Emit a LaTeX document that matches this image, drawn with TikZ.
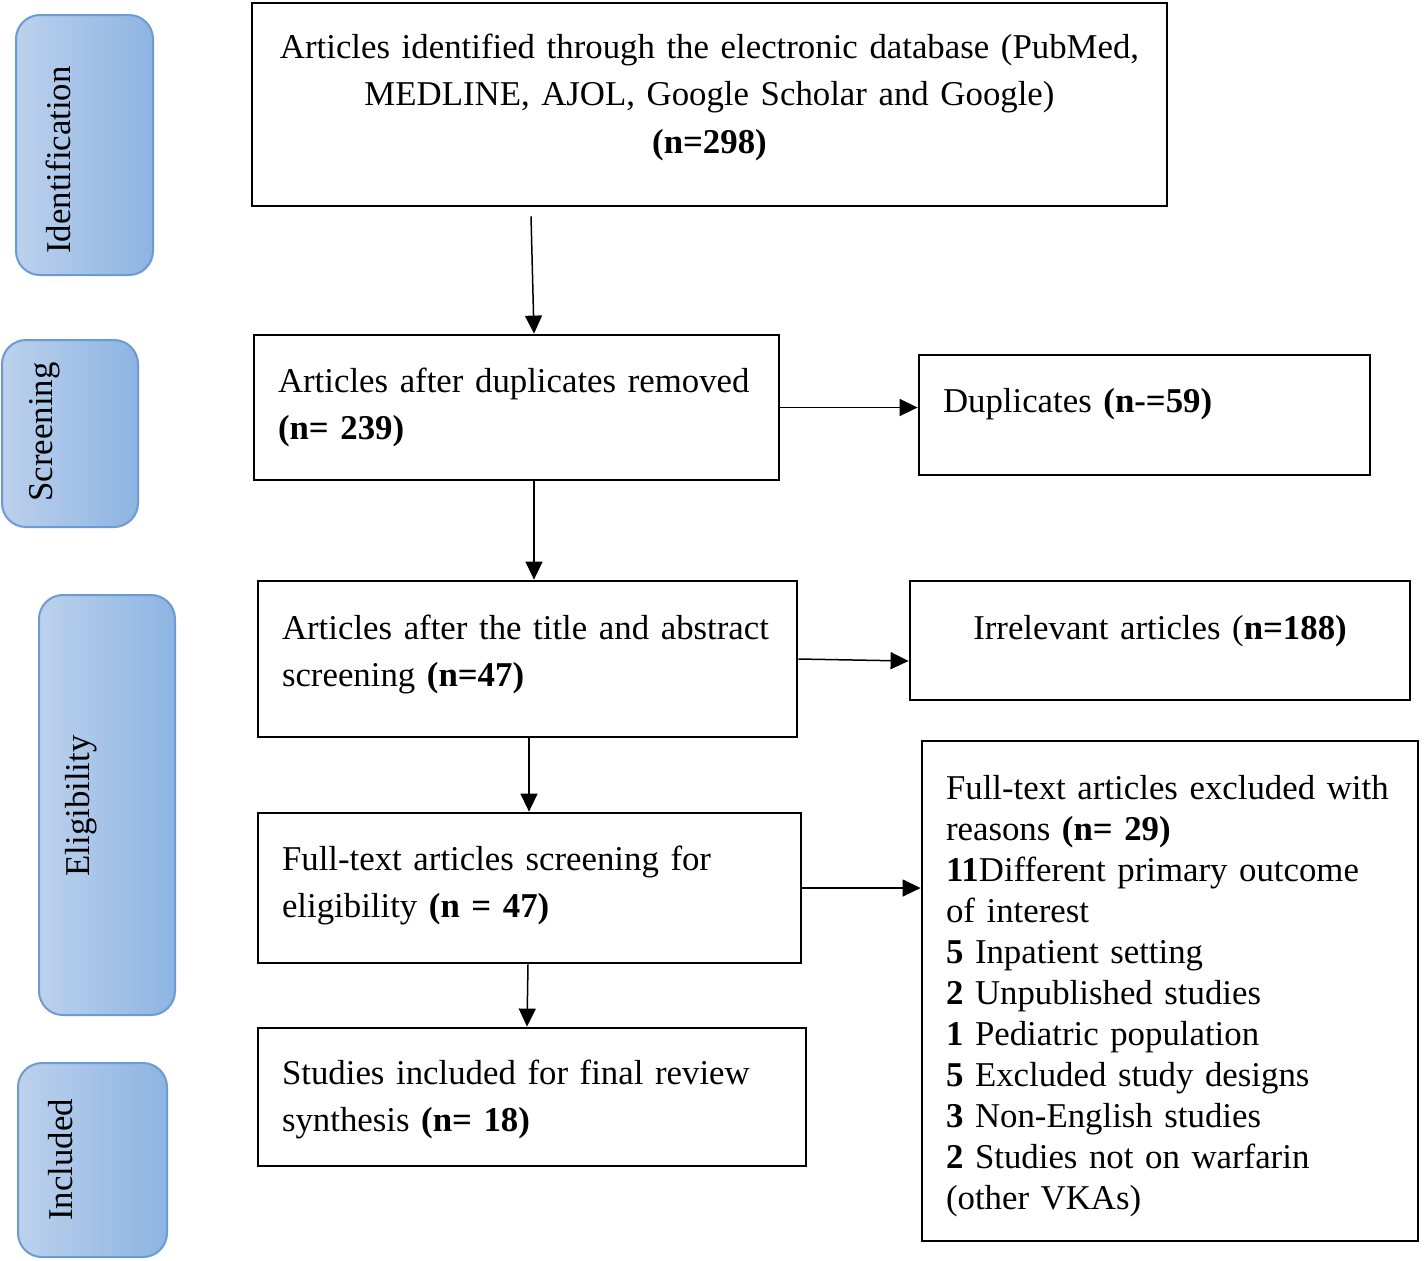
\documentclass[tikz,border=0pt]{standalone}
\usepackage{fontspec}
\setmainfont{Liberation Serif}
\usetikzlibrary{arrows.meta}

\definecolor{stageLeft}{RGB}{188,209,237}
\definecolor{stageRight}{RGB}{141,180,226}
\definecolor{stageLine}{RGB}{108,155,210}

\begin{document}
\begin{tikzpicture}[x=0.5pt, y=-0.5pt,
	every node/.style={font=\fontsize{17.4pt}{23.75pt}\selectfont},
	flowBox/.style={rectangle, draw=black, line width=1.4pt, inner ysep=0pt, inner xsep=12pt},
	stageBox/.style={rectangle, rounded corners=12pt, draw=stageLine, line width=1pt, left color=stageLeft, right color=stageRight},
	stageText/.style={rotate=90, anchor=base},
	flowArrow/.style={-{Triangle[length=9pt,width=8.5pt]}, line width=0.75pt}]
		\useasboundingbox (0,0) rectangle (1424,1260);

		% stage boxes on the left
		\node[stageBox, minimum width=68.5pt, minimum height=130pt](identBox) at (84.5,145){};
		\node[stageBox, minimum width=68pt, minimum height=93.5pt](screenBox) at (70,433.5){};
		\node[stageBox, minimum width=68pt, minimum height=210pt](eligBox) at (107,805){};
		\node[stageBox, minimum width=74.5pt, minimum height=97pt](inclBox) at (92.5,1160){};

		\node[stageText](identLabel) at (70,160){Identification};
		\node[stageText](screenLabel) at (52,432){Screening};
		\node[stageText](eligLabel) at (89,806){Eligibility};
		\node[stageText](inclLabel) at (72,1160){Included};

		% flow boxes
		\node[flowBox, inner xsep=5pt, text width=447.5pt, align=center, text height=27.5pt, text depth=74pt](artIdent) at (709.5,104.5){Articles identified through the electronic database (PubMed,\\ MEDLINE, AJOL, Google Scholar and Google)\\ \textbf{(n=298)}};
		\node[flowBox, text width=238.5pt, align=left, text height=28.5pt, text depth=44pt](artDedup) at (516.5,407.5){Articles after duplicates removed\\ \textbf{(n= 239)}};
		\node[flowBox, text width=201.5pt, align=left, text height=28.5pt, text depth=31.5pt](dupl) at (1144.5,415){Duplicates \textbf{(n-=59)}};
		\node[flowBox, text width=245.5pt, align=left, text height=29pt, text depth=49pt](artScreen) at (527.5,659){Articles after the title and abstract\\ screening \textbf{(n=47)}};
		\node[flowBox, text width=226pt, align=center, text height=29pt, text depth=30.5pt](irr) at (1160,640.5){Irrelevant articles (\textbf{n=188)}};
		\node[flowBox, text width=247.5pt, align=left, text height=28.5pt, text depth=46.5pt](fullText) at (529.5,888){Full-text articles screening for\\ eligibility \textbf{(n = 47)}};
		\node[flowBox, text width=224pt, align=left, text height=29pt, text depth=221pt, font=\fontsize{17.4pt}{20.5pt}\selectfont](excl) at (1170,991){Full-text articles excluded with\\ reasons \textbf{(n= 29)}\\ \textbf{11}Different primary outcome\\ of interest\\ \textbf{5} Inpatient setting\\ \textbf{2} Unpublished studies\\ \textbf{1} Pediatric population\\ \textbf{5} Excluded study designs\\ \textbf{3} Non-English studies\\ \textbf{2} Studies not on warfarin\\ (other VKAs)};
		\node[flowBox, text width=250pt, align=left, text height=28pt, text depth=41pt](inclStudy) at (532,1097){Studies included for final review\\ synthesis \textbf{(n= 18)}};

		% draw flow arrows
		\draw[flowArrow] ([xshift=-89.25pt, yshift=-4.5pt]artIdent.south) -- ([xshift=8.75pt]artDedup.north);
		\draw[flowArrow] (artDedup.east) -- (artDedup.east -| dupl.west);
		\draw[flowArrow] ([xshift=8.75pt]artDedup.south) -- ([xshift=8.75pt]artDedup.south |- artScreen.north);
		\draw[flowArrow] (artScreen.east) -- ([yshift=-10.25pt]irr.west);
		\draw[flowArrow] ([xshift=0.75pt]artScreen.south) -- ([xshift=0.75pt]artScreen.south |- fullText.north);
		\draw[flowArrow] (fullText.east) -- (fullText.east -| excl.west);
		\draw[flowArrow] ([xshift=-0.75pt]fullText.south) -- ([xshift=-2.5pt]inclStudy.north);
	\end{tikzpicture}
\end{document}
